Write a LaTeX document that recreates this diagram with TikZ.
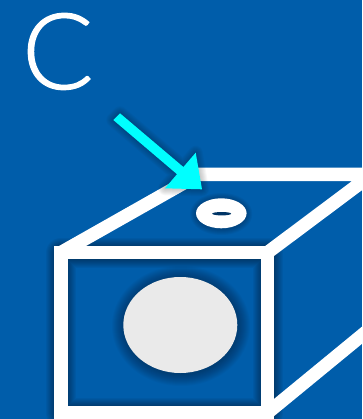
\documentclass[tikz,border=0pt]{standalone}
\usepackage{fontspec}
\newfontfamily\cfont[FakeBold=1]{Lato Light}
\definecolor{bgblue}{HTML}{005DAA}
\definecolor{diskgrey}{HTML}{EAEAEA}
\definecolor{holeblue}{HTML}{003566}
\definecolor{arrowcyan}{HTML}{00FFFF}
\tikzset{
  edgeline/.style={draw=white,line width=13.3pt,line join=miter},
  softpath/.style={draw=black,draw opacity=#1,line join=round,fill=none},
}
% soft shadow: a pile of faint strokes of rising width along a path
% #1 opacity, #2 first width, #3 second width, #4 last width, #5 path
\newcommand{\softshadow}[5]{%
  \foreach \w in {#2,#3,...,#4}{\path[softpath=#1,line width=\w pt] #5;}}
\begin{document}
\begin{tikzpicture}[x=1pt,y=-1pt]
\useasboundingbox (0,0) rectangle (362,419);
\clip (0,0) rectangle (362,419);
\fill[bgblue] (0,0) rectangle (362,419);

% corners of the box
\coordinate (ftl) at (61,252.5);
\coordinate (ftr) at (267.6,252.5);
\coordinate (fbl) at (61,412.8);
\coordinate (fbr) at (267.6,412.8);
\coordinate (btl) at (199,174.4);
\coordinate (btr) at (372,174.4);
\coordinate (bbr) at (372,327);

% shadow of the front face, under all the edges
\softshadow{0.042}{14}{16}{30}{(ftl) rectangle (fbr)}

% top and side faces
\draw[edgeline] (ftl) -- (btl) -- (btr) -- (ftr);
\draw[edgeline] (fbr) -- (bbr);

% front face
\draw[edgeline] (ftl) rectangle (fbr);

% large disk
\softshadow{0.026}{6}{8}{28}{(181,326) ellipse [x radius=55,y radius=46]}
\fill[diskgrey] (180.3,325) ellipse [x radius=57,y radius=48];

% ring
\softshadow{0.04}{4}{6}{14}{(221.3,214) ellipse [x radius=24,y radius=14]}
\fill[white] (221.3,213.3) ellipse [x radius=25.3,y radius=15];
\fill[holeblue] (221.7,213.7) ellipse [x radius=9.5,y radius=1.7];

% arrow
\coordinate (as1) at (120,113.3);
\coordinate (as2) at (113.3,120);
\coordinate (ah1) at (195.7,152.7);
\coordinate (ah2) at (165,188.3);
\coordinate (atip) at (202,189.3);
\coordinate (an1) at (183.4,167);
\coordinate (an2) at (177,174.2);
\begin{scope}[xshift=2pt]
\softshadow{0.03}{2}{4}{14}{(as1) -- (an1) -- (ah1) -- (atip) -- (ah2) -- (an2) -- (as2) -- cycle}
\end{scope}
\fill[arrowcyan] (as1) -- (an1) -- (ah1) -- (atip) -- (ah2) -- (an2) -- (as2) -- cycle;

% label
\node[text=white,inner sep=0pt,font=\cfont\fontsize{106}{106}\selectfont] (label) at (57.8,51.5) {C};
\end{tikzpicture}
\end{document}
